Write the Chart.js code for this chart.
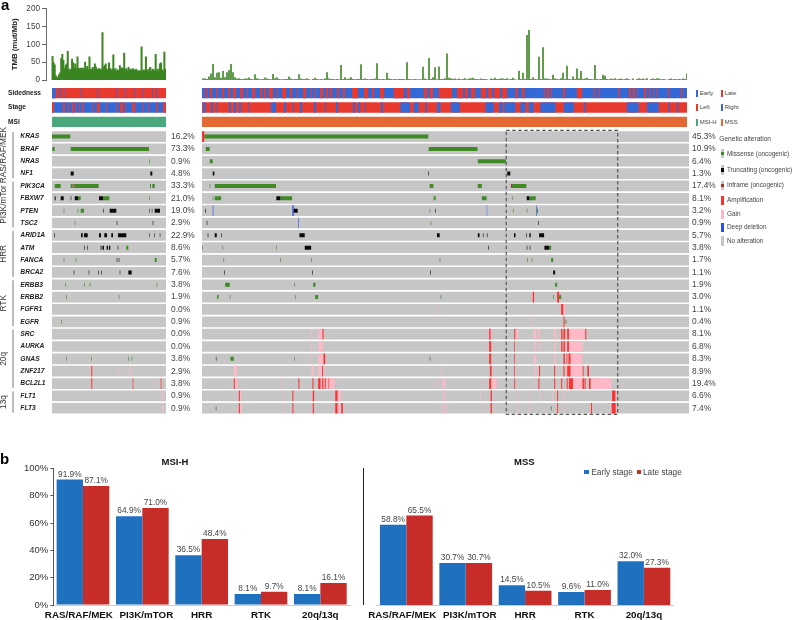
<!DOCTYPE html>
<html>
<head>
<meta charset="utf-8">
<script src="https://cdn.jsdelivr.net/npm/chart.js@4/dist/chart.umd.min.js"></script>
<style>
  html, body { margin: 0; padding: 0; background: #fff; }
  #page { position: relative; width: 794px; height: 620px; overflow: hidden; font-family: "Liberation Sans", Arial, sans-serif; }
  canvas { position: absolute; }
  .t { position: absolute; white-space: nowrap; color: #444; line-height: 1; transform: translateY(-50%); }
  .s { position: absolute; }
</style>
</head>
<body>
<div id="page">
  <canvas id="tmbMsi" style="left:0;top:0" width="166" height="85"></canvas>
  <canvas id="tmbMss" style="left:202px;top:0" width="485" height="85"></canvas>
  <canvas id="trackMsi" style="left:0;top:86px" width="166" height="43"></canvas>
  <canvas id="trackMss" style="left:202px;top:86px" width="485" height="43"></canvas>
  <canvas id="oncoMsi" style="left:0;top:124px" width="200" height="291"></canvas>
  <canvas id="oncoMss" style="left:202px;top:129px" width="525" height="287"></canvas>
  <canvas id="barMsi" style="left:0;top:456px" width="396" height="164"></canvas>
  <canvas id="barMss" style="left:363px;top:456px" width="322" height="164"></canvas>
  <div id="extras"></div>
</div>
<script>
// patient axis length of each panel
const msiLength = 114;
const mssLength = 485;

// TMB per patient
const tmbMsi = [66,48,42,12,6,8,14,20,60,72,55,32,40,45,80,30,25,30,58,48,35,45,32,65,33,30,33,32,33,28,
  50,30,38,28,65,30,28,35,30,45,36,28,30,32,28,30,133,36,40,45,30,28,48,32,26,30,70,28,32,24,
  28,26,40,30,34,30,75,28,32,26,35,28,30,26,32,28,27,30,26,25,26,24,93,26,28,26,65,28,22,30,
  35,24,30,28,26,72,24,30,22,45,48,28,26,78,30];
const tmbMss = [4,5,3,10,18,45,8,20,22,6, 25,8,22,28,45,22,8,4,5,3, 3,4,4,7,3,2,16,5,3,2,
  3,7,4,3,2,17,5,8,3,2, 2,3,3,10,4,2,3,3,16,4, 3,3,5,2,1,3,6,3,2,3,
  2,4,22,4,3,3,2,3,2,42, 3,8,3,4,8,3,2,3,3,44, 3,4,3,2,3,3,4,47,3,2,
  3,2,20,4,3,2,3,2,3,3, 3,2,50,3,2,2,3,2,2,2, 37,4,2,62,3,8,36,2,38,3,
  3,5,74,6,5,3,4,2,4,2, 3,5,2,4,5,6,3,3,2,4, 3,3,2,1,4,3,6,3,3,5,
  4,3,5,2,3,6,2,1,26,3, 20,3,126,140,3,8,3,2,65,3, 92,4,4,3,2,15,4,3,2,5,
  20,3,40,3,2,10,3,32,4,25, 3,4,6,3,3,2,42,3,2,3, 15,12,3,2,4,3,5,2,3,4,
  2,3,5,2,1,4,0,3,5,3, 4,2,5,0,3,4,3,5,4,2, 3,2,1,3,4,2,3,2,3,2, 4,3,18];
const tmbTicks = [0, 50, 100, 150, 200];

// clinical tracks
const trackNames = ['Sidedness', 'Stage', 'MSI'];
const sideRightMsi = [[0,3.7],[6,6.8],[9.3,10],[13,13.7],[29,29.8],[45.6,46.4],[64.6,65.4],[73.3,74.1],[82.3,83.1],[90,90.8],[100,100.8],[104,104.8]];
const stageLateMsi = [[0,2],[11,13],[16,17],[20,21.5],[23,24],[27,28],[30,31.5],[40,41],[45,48],[54,55],[64,65],[68,71],[73,74],[80,83],[90,91],[96,97],[104,105.5],[111,114]];
const sideLeftMss = [[2,3],[5,6],[8,10],[14,15.5],[20,22],[26,28],[31,34],[38,41],[45,46],[50,53],[58,60],[62,64],[67,71],[75,76],[80,84],[88,90],[95,96],[101,104],[109,110],[113,114],[118,121],[124,126],[128,130],[135,137],[141,143],[150,156],[162,166],[170,172],[178,182],[191.7,201.7],[205,208],[221.7,225],[227.7,231],[236.7,250],[255,261],[263,266],[269,273],[279,284],[286,290],[292,298],[300,305],[313.4,315.7],[320,322.4],[341.7,343],[345,347],[349,350],[361,363],[375,380],[391.7,393],[396.7,397.7],[416,417.4],[427,429],[431,433],[435,435.5],[442,444],[447,448],[451,452],[455,456],[465.7,467],[479,480.4]];
const stageEarlyMss = [[0,1],[2,3.5],[9,11],[14,15],[27,29],[32,34],[37,39],[46,47],[69,74],[82,84],[91,92],[98,100],[112,114],[123,124],[134,136],[151,153],[156,158],[163,164],[179,181],[198.4,208],[211.7,216.7],[223.4,225],[235,238.4],[249,257.7],[283.4,291.7],[297,301],[302.4,313.4],[318.4,323.4],[326.7,331.7],[338.4,353.4],[361.7,371.7],[381.7,383.4],[425,436.7],[445,456.7],[466.7,468],[475,476.4]];

// oncoprint rows
const genes = ['KRAS','BRAF','NRAS','NF1','PIK3CA','FBXW7','PTEN','TSC2','ARID1A','ATM','FANCA','BRCA2','ERBB3','ERBB2','FGFR1','EGFR','SRC','AURKA','GNAS','ZNF217','BCL2L1','FLT1','FLT3'];
const pctMsi = ['16.2%','73.3%','0.9%','4.8%','33.3%','21.0%','19.0%','2.9%','22.9%','8.6%','5.7%','7.6%','3.8%','1.9%','0.0%','0.9%','0.0%','0.0%','3.8%','2.9%','3.8%','0.9%','0.9%'];
const pctMss = ['45.3%','10.9%','6.4%','1.3%','17.4%','8.1%','3.2%','0.9%','5.7%','3.8%','1.7%','1.1%','1.9%','3.0%','1.1%','0.4%','8.1%','6.8%','8.3%','8.9%','19.4%','6.6%','7.4%'];
const groupNames = ['RAS/RAF/MEK','PI3K/mTor','HRR','RTK','20q','13q'];
const groupFirst = [0, 4, 8, 12, 16, 21];
const groupLast = [3, 7, 11, 15, 20, 22];

// MSI-H panel alterations: [gene, from, to]
const msiMissense = [['KRAS',0,18.3],['BRAF',0.3,2.7],['BRAF',18.7,97],['NRAS',97.4,98],
  ['PIK3CA',2.7,8.7],['PIK3CA',18.7,20.7],['PIK3CA',22.3,46.7],['PIK3CA',98,99],['PIK3CA',100.3,102.7],
  ['FBXW7',26,28.7],['FBXW7',51,57.3],['FBXW7',97.4,98],['PTEN',11.7,12.3],['PTEN',25.7,26.3],['PTEN',28.7,32],
  ['TSC2',22.7,23.3],['ATM',74.3,76.3],['FANCA',11.7,12.3],['FANCA',23.7,24.3],['FANCA',102.7,104.7],
  ['ERBB3',13,13.6],['ERBB3',32.4,33],['ERBB3',37.7,38.3],['ERBB3',104.7,105.3],['ERBB2',14,14.6],['ERBB2',66.7,67.3],
  ['EGFR',9,9.6],['GNAS',14.4,15],['GNAS',39.4,40],['GNAS',76.4,77],['GNAS',79.7,80.3]];
const msiTruncating = [['NF1',18.7,21.7],['NF1',98.3,100.3],['FBXW7',2.7,3.7],['FBXW7',8.7,11.7],['FBXW7',18.7,19.3],['FBXW7',22.7,26],['FBXW7',47,51],
  ['PTEN',51,51.6],['PTEN',57.7,64.3],['PTEN',97.5,98],['PTEN',99.8,100.3],['PTEN',102.7,108],['TSC2',64.7,65.3],['TSC2',100.7,101.3],
  ['ARID1A',2.4,3],['ARID1A',29,30.7],['ARID1A',32,35.7],['ARID1A',47,49],['ARID1A',52.3,55],['ARID1A',59.3,61],['ARID1A',66,74.3],['ARID1A',97.5,98],['ARID1A',102.5,103],['ARID1A',107.8,108.3],
  ['ATM',32,32.6],['ATM',35.4,36],['ATM',48.7,49.5],['ATM',50.5,52],['ATM',54.7,56],['ATM',57,58.3],['ATM',65.7,66.3],
  ['FANCA',64.7,65.3],['FANCA',66.7,67.3],['BRCA2',21.7,22.3],['BRCA2',36.7,37.3],['BRCA2',46.4,47],['BRCA2',49.4,50],['BRCA2',67.7,68.3],['BRCA2',76.3,79.7]];
const msiInframe = [['PIK3CA',21.3,22.3]];
const msiAmp = [['ZNF217',39.3,40.3],['BCL2L1',39.3,40.3],['BCL2L1',80.7,81.4],['BCL2L1',108.7,109.4]];
const msiGain = [['ZNF217',66.7,67.3],['ZNF217',77.7,78.4],['BCL2L1',101.7,102.4],['FLT1',110,111],['FLT3',110,111]];
const msiDeletion = [];

// MSS panel alterations: [gene, from, to]
const mssMissense = [['KRAS',2.3,225.4],['BRAF',3.7,7.7],['BRAF',225.7,274.4],['NRAS',7.7,10.7],['NRAS',274.7,302.7],
  ['PIK3CA',7.7,8.3],['PIK3CA',12.7,73.7],['PIK3CA',226.7,230.4],['PIK3CA',274.7,278.7],['PIK3CA',308.7,323],
  ['FBXW7',10.7,11.3],['FBXW7',12.7,19],['FBXW7',78,89.7],['FBXW7',230.7,232.7],['FBXW7',278.7,283.4],['FBXW7',308.7,309.3],['FBXW7',326,332.4],
  ['PTEN',226.7,227.3],['PTEN',309.7,310.3],['PTEN',323.4,324],['PTEN',333.6,334.6],['TSC2',227.7,228.3],
  ['ATM',0.4,1],['ATM',20.4,21],['ATM',74,74.6],['ATM',345.7,347.7],
  ['FANCA',21.4,22],['FANCA',77.7,78.3],['FANCA',108.7,109.3],['FANCA',236.7,237.3],['FANCA',324,324.7],['FANCA',328.4,329],['FANCA',347.7,349.7],
  ['ERBB3',23,27.7],['ERBB3',91.7,92.3],['ERBB3',110.7,113],['ERBB3',351.7,353.7],
  ['ERBB2',15,16.5],['ERBB2',27.7,28.3],['ERBB2',92.7,93.3],['ERBB2',112.7,115.7],['ERBB2',237.7,238.4],['ERBB2',349.7,350.4],['ERBB2',355.7,357.7],
  ['EGFR',362,362.8],['GNAS',13.7,14.7],['GNAS',28.3,31.7],['GNAS',91.7,92.3],['GNAS',226.7,227.5],['FLT3',13.7,14.5],['FLT3',347.4,348.2]];
const mssTruncating = [['NF1',10.7,12.3],['NF1',225.4,226],['NF1',304,307],['FBXW7',74,78],['FBXW7',323.4,326],
  ['PTEN',3.4,4],['PTEN',91.3,95.3],['PTEN',232.4,233],['TSC2',4.7,5.3],['TSC2',334.7,335.3],
  ['ARID1A',5.7,6.3],['ARID1A',12.7,14.7],['ARID1A',19,19.6],['ARID1A',97,102.3],['ARID1A',234,236.7],['ARID1A',274.7,276.4],['ARID1A',279.7,280.3],['ARID1A',283.7,284.3],['ARID1A',310.7,312.2],['ARID1A',323.1,323.7],['ARID1A',326,327.4],['ARID1A',335.7,340.7],
  ['ATM',102.3,108.7],['ATM',285.1,285.7],['ATM',323.4,324],['ATM',326.4,327],['ATM',341,345.7],
  ['BRCA2',22,22.6],['BRCA2',109.7,110.3],['BRCA2',227.4,228],['BRCA2',349.7,351.7]];
const mssInframe = [['PIK3CA',307.7,308.7]];
const mssAmp = [['KRAS',0,2.3],['ERBB2',329.4,330.7],['ERBB2',353.7,355.7],['FGFR1',357.7,359.7],['EGFR',360,361],
  ['SRC',120,121],['SRC',286,287.4],['SRC',311,312],['SRC',357.7,359],['SRC',360,361.7],['SRC',363.7,365.4],['SRC',381.7,382.7],
  ['AURKA',286,288],['AURKA',311,311.7],['AURKA',357.7,359],['AURKA',360,361.4],['AURKA',363.7,365.4],
  ['GNAS',121,122.7],['GNAS',286,288],['GNAS',311,311.7],['GNAS',360,361.4],['GNAS',363,363.8],['GNAS',365,367],
  ['ZNF217',119.5,120.4],['ZNF217',286.7,288.4],['ZNF217',311,311.7],['ZNF217',335.7,336.7],['ZNF217',350.7,351.7],['ZNF217',360,361],['ZNF217',363.7,367],['ZNF217',379.2,380],['ZNF217',383.8,385.4],
  ['BCL2L1',31.7,32.7],['BCL2L1',96,97],['BCL2L1',110,111],['BCL2L1',115.7,118],['BCL2L1',119.7,121],['BCL2L1',122.4,123.3],['BCL2L1',126,126.6],['BCL2L1',286,288],['BCL2L1',311,311.8],['BCL2L1',335,336],['BCL2L1',350.7,351.7],['BCL2L1',357.7,358.7],['BCL2L1',363.2,364.2],['BCL2L1',365.4,369.4],['BCL2L1',379,380.4],['BCL2L1',381,382],['BCL2L1',385.4,387],
  ['FLT1',36.7,37.7],['FLT1',90,91],['FLT1',110.3,111.7],['FLT1',132.7,135],['FLT1',287.4,288.7],['FLT1',353.7,354.6],['FLT1',408.4,411.7],
  ['FLT3',36.7,37.7],['FLT3',90,91],['FLT3',110.3,111.4],['FLT3',132.7,135],['FLT3',138.7,140.3],['FLT3',287.4,288.7],['FLT3',353.7,354.6],['FLT3',387.4,388.4],['FLT3',408,412]];
const mssGain = [['ERBB2',329,329.6],['FGFR1',234,234.6],['FGFR1',359.7,361.7],['EGFR',328.2,328.8],
  ['SRC',108.7,109.4],['SRC',116,120],['SRC',285.4,288],['SRC',313,315],['SRC',330.7,333],['SRC',335,336.7],['SRC',350.7,352.7],['SRC',365.4,381.7],
  ['AURKA',108.7,109.4],['AURKA',116,120.3],['AURKA',330.7,332],['AURKA',335,336],['AURKA',350.7,352],['AURKA',361.4,363],['AURKA',365.4,378.7],
  ['GNAS',108.7,109.4],['GNAS',116,120.3],['GNAS',330.7,332.7],['GNAS',350.7,352],['GNAS',366.7,378.7],
  ['ZNF217',31.7,35],['ZNF217',109,111],['ZNF217',116,119.5],['ZNF217',122.4,123],['ZNF217',237.7,238.4],['ZNF217',331,332],['ZNF217',367,378.7],
  ['BCL2L1',32.7,35],['BCL2L1',79,79.6],['BCL2L1',118,119.5],['BCL2L1',121,122.2],['BCL2L1',123.3,132],['BCL2L1',233,233.7],['BCL2L1',239.4,242],['BCL2L1',279.7,280.3],['BCL2L1',289.4,293.4],['BCL2L1',330.7,331.4],['BCL2L1',369.4,378.7],['BCL2L1',387,407.7],
  ['FLT1',37.7,39],['FLT1',80,80.7],['FLT1',135,138.3],['FLT1',239,239.8],['FLT1',242.3,243],['FLT1',277,277.7],['FLT1',314.7,315.3],['FLT1',325.7,326.3],['FLT1',336.7,337.3],['FLT1',349,349.7],['FLT1',360,360.7],
  ['FLT3',37.7,39],['FLT3',80,80.7],['FLT3',135,138.3],['FLT3',239.7,240.4],['FLT3',242.4,243.7],['FLT3',279.7,280.3],['FLT3',314.7,315.3],['FLT3',325.7,326.3],['FLT3',360,360.7]];
const mssDeletion = [['PTEN',10.7,11.3],['PTEN',90,91.3],['PTEN',332.7,333.3],['TSC2',95.7,96.3]];
const mssFaintDeletion = [['PTEN',282.7,284.7]];
const selectedFrom = 303;
const selectedTo = 414;

// bar panels
const pathways = ['RAS/RAF/MEK', 'PI3K/mTOR', 'HRR', 'RTK', '20q/13q'];
const earlyMsi = [91.9, 64.9, 36.5, 8.1, 8.1];
const lateMsi = [87.1, 71.0, 48.4, 9.7, 16.1];
const earlyMss = [58.8, 30.7, 14.5, 9.6, 32.0];
const lateMss = [65.5, 30.7, 10.5, 11.0, 27.3];
const percentTicks = [0, 20, 40, 60, 80, 100];

const FONT = '"Liberation Sans", Arial, sans-serif';
Chart.defaults.font.family = FONT;
Chart.defaults.animation = false;
Chart.defaults.responsive = false;
Chart.defaults.plugins.legend.display = false;
Chart.defaults.plugins.tooltip.enabled = false;

const RED = '#e8392f', BLUE = '#3369d6';

function toBars(list) {
  return list.map(r => ({ x: [r[1], r[2]], y: r[0] }));
}
// stops the axis pushing the rows in to make room for its first and last label
function noLabelPadding(s) { s.paddingTop = 0; s.paddingBottom = 0; }

// TMB
function tmbChart(id, values, step, thick, inflate, xmin, xmax, withAxis) {
  return new Chart(document.getElementById(id), {
    type: 'bar',
    data: { datasets: [{
      data: values.map((v, i) => ({ x: (i + 0.5) * step, y: v })),
      backgroundColor: '#3a8520', barThickness: thick, barPercentage: 1, categoryPercentage: 1, inflateAmount: inflate
    }] },
    options: {
      layout: { padding: { top: 8.7, bottom: 5, left: withAxis ? 10 : 0 } },
      scales: {
        x: { type: 'linear', offset: false, min: xmin, max: xmax, display: false },
        y: {
          min: 0, max: 200, display: withAxis,
          afterBuildTicks: s => { s.ticks = tmbTicks.map(v => ({ value: v })); },
          afterFit: s => { noLabelPadding(s); if (withAxis) s.width = 36; },
          grid: { drawOnChartArea: false, tickLength: 4, color: '#666' },
          border: { color: '#666' },
          ticks: { font: { size: 8.2 }, color: '#444', padding: 2 },
          title: { display: true, text: 'TMB (mut/Mb)', color: '#222', font: { size: 7.8, weight: 'bold' }, padding: 0 }
        }
      }
    }
  });
}
tmbChart('tmbMsi', tmbMsi, msiLength / tmbMsi.length, 1.1, 0.45, -6, msiLength, true);
tmbChart('tmbMss', tmbMss, 2, 1.6, 0, 0, mssLength, false);

// Sidedness / Stage / MSI strips
function trackChart(id, length, top, topColor, mid, midColor, base1, base2, msiColor, withLabels) {
  const strip = (rows, color) => ({ data: toBars(rows), backgroundColor: color, barThickness: 10.3, grouped: false, inflateAmount: 0 });
  return new Chart(document.getElementById(id), {
    type: 'bar',
    data: { labels: trackNames, datasets: [
      strip(top.map(r => ['Sidedness', r[0], r[1]]), topColor),
      strip(mid.map(r => ['Stage', r[0], r[1]]), midColor),
      strip([['Sidedness', 0, length]], base1),
      strip([['Stage', 0, length]], base2),
      strip([['MSI', 0, length]], msiColor)
    ] },
    options: {
      indexAxis: 'y',
      layout: { padding: { left: withLabels ? 8 : 0 } },
      scales: {
        x: { type: 'linear', offset: false, min: 0, max: length, display: false },
        y: {
          display: withLabels,
          afterFit: s => { noLabelPadding(s); if (withLabels) s.width = 44; },
          grid: { display: false, drawTicks: false }, border: { display: false },
          ticks: { crossAlign: 'far', color: '#222', font: { size: 6.6, weight: 'bold' }, padding: 0 }
        }
      }
    }
  });
}
trackChart('trackMsi', msiLength, sideRightMsi, BLUE, stageLateMsi, RED, RED, BLUE, '#4aa97c', true);
trackChart('trackMss', mssLength, sideLeftMss, RED, stageEarlyMss, BLUE, BLUE, RED, '#e26a32', false);

// pathway brackets left of the gene names
const groupBrackets = {
  id: 'groupBrackets',
  afterDraw(chart) {
    const y = chart.scales.y, c = chart.ctx;
    const half = y.getPixelForValue(1) - y.getPixelForValue(0);
    c.save();
    groupNames.forEach((name, i) => {
      const a = y.getPixelForValue(groupFirst[i]) - half * 0.36;
      const b = y.getPixelForValue(groupLast[i]) + half * 0.36;
      c.strokeStyle = '#555'; c.lineWidth = 0.8;
      c.beginPath(); c.moveTo(13, a); c.lineTo(13, b); c.stroke();
      c.save();
      c.translate(4, (a + b) / 2); c.rotate(-Math.PI / 2);
      c.fillStyle = '#333'; c.font = '8.3px ' + FONT;
      c.textAlign = 'center'; c.textBaseline = 'middle';
      c.fillText(name, 0, 0);
      c.restore();
    });
    c.restore();
  }
};

// dashed box round the selected patients
const selectedBox = {
  id: 'selectedBox',
  afterDraw(chart) {
    const x = chart.scales.x, a = chart.chartArea, c = chart.ctx;
    c.save();
    c.strokeStyle = '#555'; c.lineWidth = 1.2; c.setLineDash([3.5, 2.5]);
    c.strokeRect(x.getPixelForValue(selectedFrom), a.top, x.getPixelForValue(selectedTo) - x.getPixelForValue(selectedFrom), a.bottom - a.top);
    c.restore();
  }
};

function oncoChart(id, length, pct, layers, padding, geneLabels, pctPad, plugins) {
  const layer = (rows, color, thick) => ({ data: toBars(rows), backgroundColor: color, barThickness: thick, grouped: false, inflateAmount: 0 });
  return new Chart(document.getElementById(id), {
    type: 'bar',
    data: { labels: genes, datasets: [
      layer(layers.truncating, '#0a0a0a', 4),
      layer(layers.inframe, '#a5352a', 4),
      layer(layers.missense, '#3f8a24', 4),
      layer(layers.deletion, '#2a4bf0', 10.7),
      layer(layers.faint || [], '#a4aedb', 10.7),
      layer(layers.amp, '#ff3030', 10.7),
      layer(layers.gain, '#ffb8c6', 10.7),
      layer(genes.map(g => [g, 0, length]), '#c6c6c6', 10.7)
    ] },
    options: {
      indexAxis: 'y',
      layout: { padding },
      scales: {
        x: { type: 'linear', offset: false, min: 0, max: length, display: false },
        y: {
          display: geneLabels,
          afterFit: s => { noLabelPadding(s); if (geneLabels) s.width = 31.7; },
          grid: { display: false, drawTicks: false }, border: { display: false },
          ticks: { crossAlign: 'far', autoSkip: false, color: '#222', font: { size: 6.7, weight: 'bold', style: 'italic' }, padding: 0 }
        },
        y2: {
          type: 'category', labels: pct, position: 'right',
          afterFit: s => { noLabelPadding(s); s.width = id === 'oncoMsi' ? 34 : 38; },
          grid: { display: false, drawTicks: false }, border: { display: false },
          ticks: { autoSkip: false, color: '#444', font: { size: 8.4 }, padding: pctPad }
        }
      }
    },
    plugins
  });
}
oncoChart('oncoMsi', msiLength, pctMsi,
  { missense: msiMissense, truncating: msiTruncating, inframe: msiInframe, amp: msiAmp, gain: msiGain, deletion: msiDeletion },
  { left: 20.3, top: 6.4, bottom: 0.6 }, true, 5, [groupBrackets]);
oncoChart('oncoMss', mssLength, pctMss,
  { missense: mssMissense, truncating: mssTruncating, inframe: mssInframe, amp: mssAmp, gain: mssGain, deletion: mssDeletion, faint: mssFaintDeletion },
  { top: 1.4, bottom: 1.6 }, false, 3, [selectedBox]);

// value labels over the stage bars
const valueLabels = {
  id: 'valueLabels',
  afterDatasetsDraw(chart) {
    const c = chart.ctx;
    c.save();
    c.font = '8.3px ' + FONT; c.fillStyle = '#444';
    c.textAlign = 'center'; c.textBaseline = 'bottom';
    chart.data.datasets.forEach((ds, i) => {
      chart.getDatasetMeta(i).data.forEach((bar, j) => {
        c.fillText(ds.data[j].toFixed(1) + '%', bar.x, bar.y - 1);
      });
    });
    c.restore();
  }
};

// first two labels sit a little apart in the original so they do not touch
const spacedLabel = (v, i) => i === 0 ? pathways[i] + '   ' : i === 1 ? '   ' + pathways[i] : pathways[i];

function stageChart(id, title, early, late, padding, showAxis) {
  return new Chart(document.getElementById(id), {
    type: 'bar',
    data: { labels: pathways, datasets: [
      { label: 'Early stage', data: early, backgroundColor: '#2070c0' },
      { label: 'Late stage', data: late, backgroundColor: '#c62c28' }
    ] },
    options: {
      layout: { padding },
      datasets: { bar: { categoryPercentage: 0.888, barPercentage: 1, inflateAmount: 0 } },
      plugins: { title: { display: true, text: title, color: '#111', font: { size: 9.5, weight: 'bold' }, padding: { top: 1, bottom: 0 } } },
      scales: {
        x: {
          afterFit: s => { s.height = 15; },
          grid: { display: false, drawTicks: false }, border: { color: '#ccc' },
          ticks: { color: '#111', autoSkip: false, maxRotation: 0, font: { size: 9.8, weight: 'bold' }, padding: 4, callback: spacedLabel }
        },
        y: {
          min: 0, max: 100, display: showAxis,
          afterBuildTicks: s => { s.ticks = percentTicks.map(v => ({ value: v })); },
          afterFit: s => { noLabelPadding(s); if (showAxis) s.width = 53.3; },
          grid: { drawOnChartArea: false, tickLength: 3, color: '#555' },
          border: { color: '#555' },
          ticks: { color: '#333', font: { size: 9.5 }, padding: 2, callback: v => v + '%' }
        }
      }
    },
    plugins: [valueLabels]
  });
}
stageChart('barMsi', 'MSI-H', earlyMsi, lateMsi, { right: 46 }, true);
stageChart('barMss', 'MSS', earlyMss, lateMss, { left: 12.2, right: 11.4 }, false);

// legends and panel letters
const extras = document.getElementById('extras');
function addText(text, x, y, size, color, weight) {
  const d = document.createElement('div');
  d.className = 't'; d.textContent = text;
  d.style.cssText = `left:${x}px;top:${y}px;font-size:${size}px;color:${color || '#444'};font-weight:${weight || 'normal'}`;
  extras.appendChild(d);
}
function addSwatch(x, y, w, h, color) {
  const d = document.createElement('div');
  d.className = 's';
  d.style.cssText = `left:${x}px;top:${y - h / 2}px;width:${w}px;height:${h}px;background:${color}`;
  extras.appendChild(d);
}
addText('a', 1, 4, 15, '#000', 'bold');
addText('b', 0, 458, 15, '#000', 'bold');

const trackLegend = [
  [93, 'Early', BLUE, 'Late', RED],
  [107, 'Left', RED, 'Right', BLUE],
  [122, 'MSI-H', '#4aa97c', 'MSS', '#e26a32']
];
trackLegend.forEach(r => {
  addSwatch(695.5, r[0], 2.5, 7, r[2]); addText(r[1], 699.7, r[0], 6);
  addSwatch(720.5, r[0], 2.5, 7, r[4]); addText(r[3], 724.7, r[0], 6);
});

addText('Genetic alteration', 719.3, 138.7, 6.6);
const alterationLegend = [
  [153.7, 'Missense (oncogenic)', '#3f8a24', 3.5],
  [170, 'Truncating (oncogenic)', '#0a0a0a', 3.5],
  [185.3, 'Inframe (oncogenic)', '#a5352a', 3.5],
  [200.3, 'Amplification', '#ff3030', 9.5],
  [214.3, 'Gain', '#ffb8c6', 9.5],
  [227.3, 'Deep deletion', '#2a4bf0', 9.5],
  [241, 'No alteration', '#c6c6c6', 9.5]
];
alterationLegend.forEach(r => {
  addSwatch(721.2, r[0], 3, 9.5, '#c6c6c6');
  addSwatch(721.2, r[0], 3, r[3], r[2]);
  addText(r[1], 727, r[0], 6.4);
});

addSwatch(584.3, 471.7, 4.3, 4.3, '#2070c0'); addText('Early stage', 591.3, 471.7, 8.3);
addSwatch(636.7, 471.7, 4.3, 4.3, '#c62c28'); addText('Late stage', 643, 471.7, 8.3);
addSwatch(363, 536.5, 1, 137, '#222');
</script>
</body>
</html>
